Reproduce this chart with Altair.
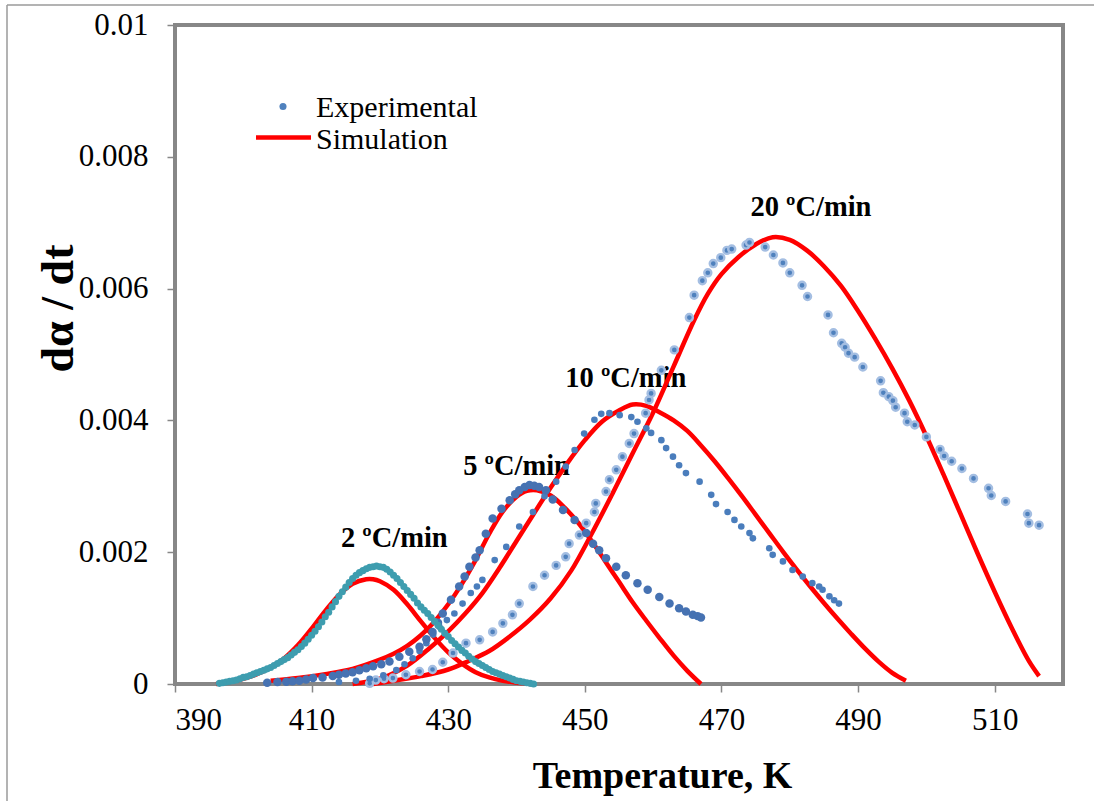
import altair as alt
import pandas as pd

# ---------------- data ----------------
# Experimental, 2 ºC/min
exp2_T = [396.5, 397, 397.5, 398, 398.5, 399, 399.5, 400, 400.5, 401, 401.5, 402, 402.5, 403, 403.5,
          404, 404.5, 405, 405.5, 406, 406.5, 407, 407.5, 408, 408.5, 409, 409.5, 410, 410.5, 411,
          411.5, 412, 412.5, 413, 413.5, 414, 414.5, 415, 415.5, 416, 416.5, 417, 417.5, 418, 418.5,
          419, 419.5, 420, 420.5, 421, 421.5, 422, 422.5, 423, 423.5, 424, 424.5, 425, 425.5, 426,
          426.5, 427, 427.5, 428, 428.5, 429, 429.5, 430, 430.5, 431, 431.5, 432, 432.5, 433, 433.5,
          434, 434.5, 435, 435.5, 436, 436.5, 437, 437.5, 438, 438.5, 439, 439.5, 440, 440.5, 441,
          441.5, 442, 442.5]
exp2_v = [0.00001, 0.00002, 0.00003, 0.00004, 0.00005, 0.00006, 0.00008, 0.00010, 0.00011, 0.00013,
          0.00015, 0.00017, 0.00019, 0.00021, 0.00023, 0.00025, 0.00028, 0.00031, 0.00034, 0.00037,
          0.00040, 0.00044, 0.00048, 0.00052, 0.00057, 0.00062, 0.00068, 0.00074, 0.00080, 0.00087,
          0.00094, 0.00102, 0.00109, 0.00117, 0.00125, 0.00133, 0.00140, 0.00147, 0.00154, 0.00160,
          0.00165, 0.00169, 0.00172, 0.00175, 0.00177, 0.00178, 0.00179, 0.00178, 0.00177, 0.00174,
          0.00170, 0.00165, 0.00160, 0.00154, 0.00148, 0.00142, 0.00136, 0.00130, 0.00123, 0.00117,
          0.00112, 0.00107, 0.00101, 0.00095, 0.00089, 0.00083, 0.00077, 0.00072, 0.00066, 0.00061,
          0.00056, 0.00051, 0.00047, 0.00042, 0.00038, 0.00034, 0.00031, 0.00028, 0.00025, 0.00022,
          0.00019, 0.00017, 0.00015, 0.00013, 0.00011, 0.00009, 0.00007, 0.00005, 0.00004, 0.00003,
          0.00002, 0.00001, 0.00000]

# Experimental, 5 ºC/min
exp5_T = [403.5, 405, 406.3, 407.2, 408.2, 409.2, 410.2, 411.6, 413.1, 414.0, 415.0, 416.0, 417.0, 418.0,
          419.0, 420.2, 421.4, 422.85, 424.3, 425.8, 426.8, 427.7, 428.5, 429.2, 430.4, 431.6, 432.4,
          433.1, 434.0, 434.6, 435.5, 436.5, 437.8, 439.0, 439.8, 440.4, 441.2, 441.9, 442.6, 443.3,
          444.3, 445.3, 446.8, 448.5, 450.2, 451.2, 452.1, 453.1, 454.6, 456.0, 457.7, 459.2, 460.9,
          462.4, 463.8, 464.8, 465.8, 466.5, 467.0]
exp5_v = [0.00002, 0.00003, 0.000035, 0.00004, 0.00005, 0.00007, 0.00009, 0.00010, 0.00012, 0.00014,
          0.00016, 0.00018, 0.00021, 0.00024, 0.00027, 0.00030, 0.00034, 0.000415, 0.00049, 0.000566,
          0.00068, 0.00079, 0.00093, 0.00107, 0.00128, 0.00148, 0.00163, 0.00178, 0.00192, 0.00203,
          0.00228, 0.00251, 0.00266, 0.00279, 0.00288, 0.00294, 0.00299, 0.00302, 0.00301, 0.00299,
          0.00294, 0.00280, 0.00264, 0.00249, 0.00229, 0.00213, 0.00203, 0.00191, 0.00178, 0.00165,
          0.00153, 0.00143, 0.00132, 0.00122, 0.00115, 0.00110, 0.00105, 0.00103, 0.00101]

# Experimental, 10 ºC/min
exp10_T = [414.0, 416.5, 418.5, 420.5, 422.4, 423.6, 424.8, 425.8, 426.8, 427.8, 428.7, 429.8, 430.9,
           432.1, 433.3, 434.2, 435.0, 436.8, 438.5, 440.4, 442.4, 444.1, 445.8, 447.2, 448.5, 449.9,
           451.4, 452.4, 453.6, 455.1, 456.8, 457.7, 459.0, 459.7, 461.2, 461.9, 462.9, 463.8, 464.8,
           466.8, 468.5, 469.2, 470.9, 471.9, 472.9, 474.1, 474.6, 477.0, 477.5, 479.0, 480.4, 481.9,
           483.3, 484.3, 484.8, 485.8, 486.5, 487.2]
exp10_v = [0.00003, 0.00005, 0.00008, 0.00013, 0.00021, 0.00030, 0.00039, 0.00050, 0.00062, 0.00075,
           0.00087, 0.00097, 0.00107, 0.00122, 0.00138, 0.00148, 0.00158, 0.00188, 0.00208, 0.00239,
           0.00261, 0.00285, 0.00307, 0.00330, 0.00355, 0.00380, 0.00401, 0.00410, 0.00411, 0.00408,
           0.00405, 0.00398, 0.00388, 0.00381, 0.00370, 0.00358, 0.00345, 0.00332, 0.00320, 0.00307,
           0.00287, 0.00273, 0.00261, 0.00249, 0.00239, 0.00229, 0.00221, 0.00206, 0.00196, 0.00186,
           0.00173, 0.00163, 0.00153, 0.00148, 0.00143, 0.00133, 0.00127, 0.00122]

# Experimental, 20 ºC/min
exp20_T = [418.5, 419.4, 420.6, 421.9, 423.8, 425.8, 427.7, 429.2, 430.7, 432.6, 434.6, 436.5, 438.0,
           439.4, 440.4, 442.4, 444.1, 445.8, 447.2, 447.7, 449.2, 450.2, 451.4, 451.6, 453.1, 453.6,
           454.6, 455.5, 456.5, 457.2, 458.9, 459.4, 459.7, 461.2, 463.1, 465.3, 466.0, 467.2, 468.0,
           468.8, 469.9, 470.8, 471.5, 473.6, 474.1, 476.4, 477.6, 479.0, 480.0, 481.8, 482.6, 485.6,
           486.4, 487.6, 488.1, 488.6, 489.5, 490.7, 493.3, 493.7, 494.5, 495.1, 495.5, 496.8, 497.2,
           498.3, 500.0, 502.0, 502.6, 503.7, 505.2, 506.9, 509.1, 509.5, 511.6, 514.8, 515.0, 516.5]
exp20_v = [0.00001, 0.00006, 0.00008, 0.00009, 0.00014, 0.00019, 0.00022, 0.00033, 0.00047, 0.00062,
           0.00067, 0.00079, 0.00092, 0.00105, 0.00122, 0.00148, 0.00165, 0.00180, 0.00193, 0.00213,
           0.00226, 0.00244, 0.00261, 0.00274, 0.00292, 0.00310, 0.00325, 0.00345, 0.00365, 0.00380,
           0.00411, 0.00431, 0.00441, 0.00476, 0.00507, 0.00556, 0.00590, 0.00612, 0.00624, 0.00638,
           0.00647, 0.00658, 0.00660, 0.00666, 0.00670, 0.00663, 0.00651, 0.00639, 0.00624, 0.00605,
           0.00588, 0.00560, 0.00533, 0.00517, 0.00511, 0.00502, 0.00496, 0.00481, 0.00460, 0.00442,
           0.00436, 0.00430, 0.00420, 0.00411, 0.00398, 0.00393, 0.00375, 0.00356, 0.00346, 0.00338,
           0.00327, 0.00312, 0.00297, 0.00286, 0.00277, 0.00258, 0.00244, 0.00241]

# Simulation curves
sim2_T = [396, 398, 400, 402, 404, 406, 408, 410, 412, 414, 416, 418, 419, 420, 422, 424, 426, 428,
          430, 432, 434, 436, 438, 440, 442.3]
sim2_v = [0.00000, 0.00003, 0.00008, 0.00015, 0.00025, 0.00039, 0.00059, 0.00084, 0.00111, 0.00135,
          0.00152, 0.00159, 0.00159, 0.00156, 0.00143, 0.00121, 0.00095, 0.00070, 0.00048, 0.00031,
          0.00018, 0.00010, 0.00005, 0.00002, 0.00000]

sim5_T = [404, 408, 412, 416, 420, 422, 424, 426, 428, 430, 432, 434, 436, 438, 440, 441.5, 443, 445,
          447, 449, 451, 453, 455, 457, 459, 461, 463, 465, 467]
sim5_v = [0.00005, 0.00009, 0.00015, 0.00023, 0.00037, 0.00046, 0.00058, 0.00074, 0.00095, 0.00121,
          0.00152, 0.00188, 0.00228, 0.00262, 0.00284, 0.00293, 0.00294, 0.00286, 0.00268, 0.00245,
          0.00217, 0.00186, 0.00155, 0.00124, 0.00096, 0.00069, 0.00043, 0.00020, 0.00000]

sim10_T = [416, 420, 424, 427, 430, 432.5, 435, 437.5, 440, 442.5, 445, 447.5, 450, 452.5, 455, 457,
           459, 461, 463, 465, 467, 469, 471, 473, 475, 477, 479, 481, 483, 485, 487, 489, 491, 493,
           495, 497]
sim10_v = [0.00000, 0.00008, 0.00028, 0.00052, 0.00080, 0.00107, 0.00138, 0.00176, 0.00217, 0.00258,
           0.00298, 0.00336, 0.00370, 0.00398, 0.00415, 0.00424, 0.00422, 0.00412, 0.00400, 0.00384,
           0.00362, 0.00338, 0.00312, 0.00285, 0.00257, 0.00229, 0.00201, 0.00174, 0.00148, 0.00123,
           0.00099, 0.00076, 0.00054, 0.00034, 0.00017, 0.00005]

sim20_T = [419, 422, 426, 430, 433, 436, 439, 442, 445, 448, 451, 454, 457, 460, 463, 466, 468, 470,
           472.5, 475, 477.5, 480, 482.5, 485, 487.5, 490, 492.5, 495, 497.5, 500, 502.5, 505, 507.5,
           510, 512.5, 515, 516.5]
sim20_v = [0.00000, 0.00005, 0.00012, 0.00022, 0.00035, 0.00050, 0.00072, 0.00098, 0.00130, 0.00172,
           0.00228, 0.00288, 0.00350, 0.00412, 0.00482, 0.00552, 0.00592, 0.00622, 0.00648, 0.00667,
           0.00678, 0.00674, 0.00658, 0.00634, 0.00604, 0.00566, 0.00524, 0.00479, 0.00430, 0.00376,
           0.00318, 0.00258, 0.00198, 0.00140, 0.00085, 0.00035, 0.00012]

# Heating-rate labels (text and where they sit, in data units)
rate_labels = ["2 ºC/min", "5 ºC/min", "10 ºC/min", "20 ºC/min"]
rate_label_T = [422.1, 440.0, 456.0, 483.1]
rate_label_v = [0.00221, 0.00331, 0.00464, 0.00724]

x_ticks = [390, 410, 430, 450, 470, 490, 510]
y_ticks = [0, 0.002, 0.004, 0.006, 0.008, 0.01]

# ---------------- build tables ----------------
def pts(T, v, name):
    return pd.DataFrame({"T": T, "v": v, "series": name})

d_exp2 = pts(exp2_T, exp2_v, "2")
d_exp5 = pts(exp5_T, exp5_v, "5")
d_exp10 = pts(exp10_T, exp10_v, "10")
d_exp20 = pts(exp20_T, exp20_v, "20")
d_sim = pd.concat([
    pts(sim2_T, sim2_v, "2"), pts(sim5_T, sim5_v, "5"),
    pts(sim10_T, sim10_v, "10"), pts(sim20_T, sim20_v, "20"),
])
d_lab = pd.DataFrame({"T": rate_label_T, "v": rate_label_v, "text": rate_labels})

FONT = "Liberation Serif"
GRAY = "#878787"

xs = alt.Scale(domain=[390, 520], nice=False, zero=False)
ys = alt.Scale(domain=[0, 0.01], nice=False)

x_axis = alt.Axis(
    values=x_ticks, title="Temperature, K", titleFont=FONT, titleFontSize=38,
    titleFontWeight="bold", titleColor="black", titleX=487, titleY=103,
    titleAlign="center", titleBaseline="alphabetic", labelPadding=13,
)
y_axis = alt.Axis(
    values=y_ticks, title="dα / dt", titleFont=FONT, titleFontSize=46,
    titleFontWeight="bold", titleColor="black", titleX=-117, titleY=283,
    titleAlign="center", titleBaseline="middle", titleAngle=270,
    labelExpr="datum.value == 0 ? '0' : format(datum.value, '.3~f')", labelPadding=19,
)

X = alt.X("T:Q", scale=xs, axis=x_axis)
Y = alt.Y("v:Q", scale=ys, axis=y_axis)

labels = alt.Chart(d_lab).mark_text(
    font=FONT, fontSize=28.5, fontWeight="bold", color="black", align="center", baseline="middle"
).encode(x=alt.X("T:Q", scale=xs), y=alt.Y("v:Q", scale=ys), text="text:N")

sim = alt.Chart(d_sim).mark_line(color="#FF0000", strokeWidth=4.5, interpolate="catmull-rom").encode(
    x=X, y=Y, detail="series:N"
)

p20 = alt.Chart(d_exp20).mark_point(
    filled=True, fill="#4F81BD", stroke="#A4BEE2", strokeWidth=2.4, size=50, opacity=1
).encode(x=alt.X("T:Q", scale=xs), y=alt.Y("v:Q", scale=ys))
p10 = alt.Chart(d_exp10).mark_circle(color="#4A7DBC", size=44, opacity=1).encode(
    x=alt.X("T:Q", scale=xs), y=alt.Y("v:Q", scale=ys))
p5 = alt.Chart(d_exp5).mark_circle(color="#4672B2", size=72, opacity=1).encode(
    x=alt.X("T:Q", scale=xs), y=alt.Y("v:Q", scale=ys))
p2 = alt.Chart(d_exp2).mark_circle(color="#3E9DAF", size=50, opacity=1).encode(
    x=alt.X("T:Q", scale=xs), y=alt.Y("v:Q", scale=ys))

# legend (drawn inside the plot, top-left)
leg_df = pd.DataFrame({"k": ["Experimental", "Simulation"]})
leg_dot = alt.Chart(leg_df).transform_filter("datum.k == 'Experimental'").mark_circle(
    color="#4F81BD", size=50, opacity=1
).encode(x=alt.value(108), y=alt.value(81.5))
leg_line = alt.Chart(leg_df).transform_filter("datum.k == 'Simulation'").mark_rule(
    color="#FF0000", strokeWidth=4.5
).encode(x=alt.value(81), x2=alt.value(136), y=alt.value(112.5))
leg_t1 = alt.Chart(leg_df).transform_filter("datum.k == 'Experimental'").mark_text(
    font=FONT, fontSize=30, align="left", baseline="alphabetic", color="black"
).encode(x=alt.value(141), y=alt.value(91.5), text="k:N")
leg_t2 = alt.Chart(leg_df).transform_filter("datum.k == 'Simulation'").mark_text(
    font=FONT, fontSize=30, align="left", baseline="alphabetic", color="black"
).encode(x=alt.value(141), y=alt.value(124), text="k:N")

# thin outer chart border (left and top edges)
border_l = alt.Chart(leg_df).transform_filter("datum.k == 'Simulation'").mark_rule(
    color="#9A9A9A", strokeWidth=1.5
).encode(x=alt.value(-168), y=alt.value(-20), y2=alt.value(776))
border_t = alt.Chart(leg_df).transform_filter("datum.k == 'Simulation'").mark_rule(
    color="#9A9A9A", strokeWidth=1.5
).encode(x=alt.value(-168), x2=alt.value(919), y=alt.value(-20))

chart = alt.layer(
    labels, sim, p20, p10, p5, p2, leg_dot, leg_line, leg_t1, leg_t2, border_l, border_t
).properties(
    width=888, height=659,
    autosize=alt.AutoSizeParams(type="none"),
    padding={"left": 175, "top": 25, "right": 31, "bottom": 117},
    background="white",
).configure_view(
    stroke=GRAY, strokeWidth=4
).configure_axis(
    grid=False, domain=False, tickColor=GRAY, tickWidth=1.5, tickSize=8,
    labelFont=FONT, labelFontSize=31, labelColor="black",
)

chart.save("out.html", embed_options={"renderer": "svg", "actions": False})
